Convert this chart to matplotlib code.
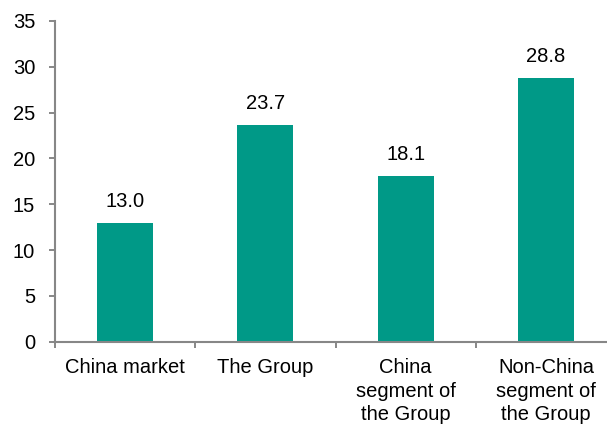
import numpy as np
import matplotlib
matplotlib.use("Agg")
import matplotlib.pyplot as plt
from matplotlib.ticker import FixedLocator

plt.rcParams['font.family'] = ['Liberation Sans', 'DejaVu Sans']

categories = ["China market", "The Group", "China\nsegment of\nthe Group", "Non-China\nsegment of\nthe Group"]
values = [13.0, 23.7, 18.1, 28.8]
yticks = [0, 5, 10, 15, 20, 25, 30, 35]

bar_color = "#009987"
axis_color = "#878787"
fs = 14.5

fig = plt.figure(figsize=(6.07, 4.25), dpi=100)
# axes run a little past the right edge, like the original export
ax = fig.add_axes([55 / 607, (425 - 341.7) / 425, 561 / 607, 320.7 / 425])

x = np.arange(len(categories))
ax.bar(x, values, width=0.4, color=bar_color)
for xi, v in zip(x, values):
    ax.annotate(f"{v:.1f}", (xi, v), xytext=(0, 11.5), textcoords="offset points",
                ha="center", va="baseline", fontsize=fs)

ax.set_xlim(-0.5, len(categories) - 0.5)
ax.set_ylim(0, 35)
ax.set_yticks(yticks)
ax.tick_params(axis="y", labelsize=fs, length=4.3, width=1.4, color=axis_color, pad=10)

# category labels without ticks, separators at boundaries
ax.set_xticks(x)
ax.set_xticklabels(categories, fontsize=fs, linespacing=1.3)
ax.tick_params(axis="x", length=0, pad=12)
ax.xaxis.set_minor_locator(FixedLocator(np.arange(-0.5, len(categories), 1.0)))
ax.tick_params(axis="x", which="minor", length=4.3, width=1.4, color=axis_color)

for side in ["top", "right"]:
    ax.spines[side].set_visible(False)
for side in ["left", "bottom"]:
    ax.spines[side].set_color(axis_color)
    ax.spines[side].set_linewidth(1.5)

fig.savefig("out.png", dpi=100)
